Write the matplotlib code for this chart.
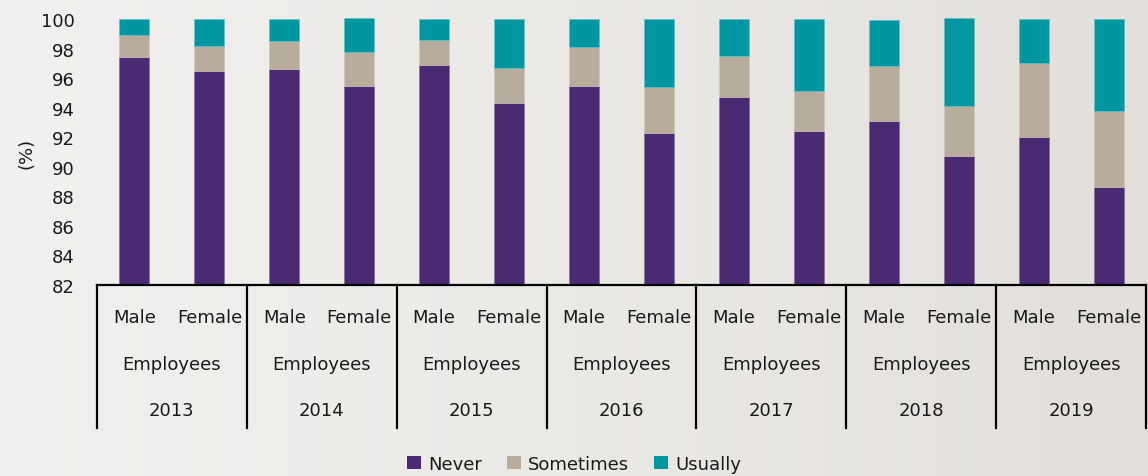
import numpy as np
import matplotlib
matplotlib.use("Agg")
import matplotlib.pyplot as plt
from matplotlib.patches import Patch
from matplotlib.colors import LinearSegmentedColormap

years = ["2013", "2014", "2015", "2016", "2017", "2018", "2019"]
genders = ["Male", "Female"]
group_label = "Employees"

never = [97.4, 96.5, 96.6, 95.5, 96.9, 94.3, 95.5, 92.3, 94.7, 92.4, 93.1, 90.7, 92.0, 88.6]
sometimes = [1.5, 1.7, 1.9, 2.3, 1.7, 2.4, 2.6, 3.1, 2.8, 2.7, 3.7, 3.4, 5.0, 5.2]
usually = [1.1, 1.8, 1.5, 2.3, 1.4, 3.3, 1.9, 4.6, 2.5, 4.9, 3.1, 6.0, 3.0, 6.2]

series_names = ["Never", "Sometimes", "Usually"]
colors = ["#4a2a72", "#b8ad9d", "#0097a0"]
yticks = list(range(82, 101, 2))

plt.rcParams['font.family'] = ['DejaVu Sans']
W, H = 1148, 477
fig = plt.figure(figsize=(W / 100, H / 100), dpi=100)

# background gradient
bg = fig.add_axes([0, 0, 1, 1], zorder=-10)
grad = np.linspace(0, 1, 512).reshape(1, -1)
cmap = LinearSegmentedColormap.from_list("bg", ["#f2f1ef", "#ebe9e6", "#e2dfdb"])
bg.imshow(grad, aspect="auto", cmap=cmap, extent=[0, 1, 0, 1], interpolation="bilinear")
bg.set_xlim(0, 1); bg.set_ylim(0, 1)
bg.axis("off")

left = 97 / W
right = 1146 / W
bottom = (H - 286) / H
top = (H - 20) / H
ax = fig.add_axes([left, bottom, right - left, top - bottom])
ax.set_facecolor("none")

x = np.arange(len(never))
nv = np.array(never); st = np.array(sometimes); us = np.array(usually)
w = 0.4
ax.bar(x, nv - 82, bottom=82, width=w, color=colors[0], edgecolor="#7a6a95", linewidth=0.4, clip_on=False)
ax.bar(x, st, bottom=nv, width=w, color=colors[1], edgecolor="#cfc6ba", linewidth=0.4, clip_on=False)
ax.bar(x, us, bottom=nv + st, width=w, color=colors[2], edgecolor="#5cc0c5", linewidth=0.4, clip_on=False)

ax.set_xlim(-0.5, len(never) - 0.5)
ax.set_ylim(82, 100)
ax.set_yticks(yticks)
ax.tick_params(axis="y", length=0, labelsize=13, pad=16, labelcolor="#1a1a1a")
ax.set_xticks([])
for s in ["left", "top", "right"]:
    ax.spines[s].set_visible(False)
ax.spines["bottom"].set_color("black")
ax.spines["bottom"].set_linewidth(1.6)
ax.set_ylabel("(%)", fontsize=13, labelpad=4, color="#1a1a1a")

trans = ax.get_xaxis_transform()
ah = 266.0
def yf(py):
    return (286 - py) / ah

tc = "#1a1a1a"
for i, g in enumerate(genders * len(years)):
    ax.text(x[i], yf(318), g, transform=trans, ha="center", va="center", fontsize=13, color=tc)
for j, yr in enumerate(years):
    cx = 2 * j + 0.5
    ax.text(cx, yf(365), group_label, transform=trans, ha="center", va="center", fontsize=13, color=tc)
    ax.text(cx, yf(411), yr, transform=trans, ha="center", va="center", fontsize=13, color=tc)
for k in range(len(years) + 1):
    xb = 2 * k - 0.5
    ax.plot([xb, xb], [0, yf(429)], transform=trans, color="black", lw=1.6, clip_on=False)

handles = [Patch(facecolor=c, edgecolor="none", label=n) for c, n in zip(colors, series_names)]
fig.legend(handles=handles, loc="center", bbox_to_anchor=(0.5, (H - 465) / H), ncol=3, frameon=False,
           fontsize=13, handlelength=0.75, handleheight=0.75, handletextpad=0.4, columnspacing=1.4,
           labelcolor=tc)

fig.savefig("out.png", dpi=100)
